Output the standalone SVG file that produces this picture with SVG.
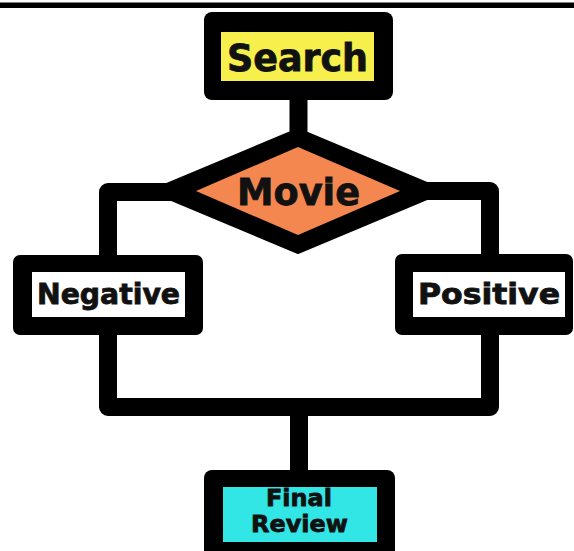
<svg xmlns="http://www.w3.org/2000/svg" width="574" height="551" viewBox="0 0 574 551">
  <style>
    .outer { fill: #000; }
    .lbl { font-family: "DejaVu Sans", "Liberation Sans", sans-serif; font-weight: bold; fill: #111; stroke: #111; stroke-width: 0.8; text-anchor: middle; }
    .conn { fill: none; stroke: #000; stroke-width: 18; stroke-linejoin: round; }
  </style>
  <rect x="0" y="0" width="574" height="551" fill="#ffffff"/>
  <rect x="0" y="2.5" width="574" height="5.5" fill="#000"/>

  <g id="connectors">
    <line class="conn" x1="298.5" y1="98" x2="298.5" y2="150"/>
    <path class="conn" d="M180,192 H108 V258"/>
    <path class="conn" d="M418,191 H490 V258"/>
    <path class="conn" d="M108,333 V407 H490 V333"/>
    <line class="conn" x1="299" y1="407" x2="299" y2="472"/>
  </g>

  <g id="search">
    <rect class="outer" x="204" y="12" width="189" height="88" rx="8"/>
    <rect x="221" y="32" width="153" height="49" fill="#f7ef4b"/>
    <text class="lbl" x="297.5" y="71" font-size="37" textLength="141" lengthAdjust="spacingAndGlyphs">Search</text>
  </g>

  <g id="movie">
    <polygon points="298,129 446,191 298,253 150,191" fill="#000" stroke="#000" stroke-width="2" stroke-linejoin="round"/>
    <polygon points="298,147 400,191 298,235 196,191" fill="#f3874f"/>
    <text class="lbl" x="298.5" y="205" font-size="38" textLength="123" lengthAdjust="spacingAndGlyphs">Movie</text>
  </g>

  <g id="negative">
    <rect class="outer" x="13" y="255" width="190" height="80" rx="7"/>
    <rect x="32" y="272" width="153" height="45" fill="#ffffff"/>
    <text class="lbl" x="108.5" y="304" font-size="27.5" textLength="143" lengthAdjust="spacingAndGlyphs">Negative</text>
  </g>

  <g id="positive">
    <rect class="outer" x="395" y="254" width="178" height="81" rx="7"/>
    <rect x="413" y="272" width="152" height="45" fill="#ffffff"/>
    <text class="lbl" x="489" y="304" font-size="28" textLength="142" lengthAdjust="spacingAndGlyphs">Positive</text>
  </g>

  <g id="final-review">
    <rect class="outer" x="204" y="470" width="191" height="90" rx="8"/>
    <rect x="223" y="487" width="154" height="55" fill="#33e6e6"/>
    <text class="lbl" x="299" y="506" font-size="23" textLength="66" lengthAdjust="spacingAndGlyphs">Final</text>
    <text class="lbl" x="299.5" y="532" font-size="23" textLength="97" lengthAdjust="spacingAndGlyphs">Review</text>
  </g>
</svg>
